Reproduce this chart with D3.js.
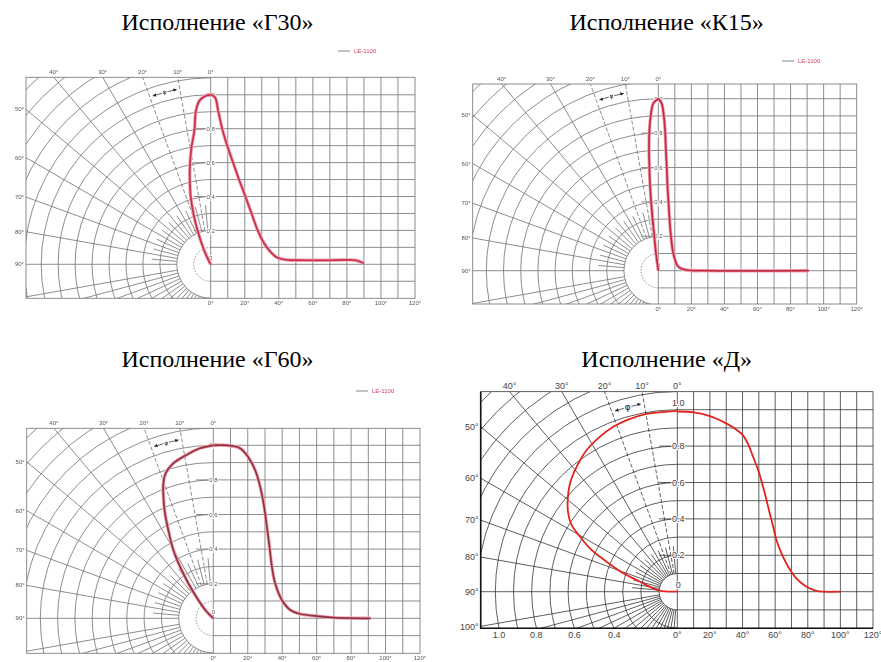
<!DOCTYPE html>
<html>
<head>
<meta charset="utf-8">
<script src="https://cdn.jsdelivr.net/npm/d3@7"></script>
<style>
  body { margin: 0; background: #fff; }
  svg { display: block; }
</style>
</head>
<body>
<svg id="chart" width="881" height="662"></svg>
<script>
// ---- data ----
const titles = ["Исполнение «Г30»", "Исполнение «К15»", "Исполнение «Г60»", "Исполнение «Д»"];
const legendLabel = "LE-1100";

const topAngles = [40, 30, 20, 10, 0];
const sideAngles = [50, 60, 70, 80, 90];
const sideAnglesD = [50, 60, 70, 80, 90, 100];
const degTicks = [0, 20, 40, 60, 80, 100, 120];
const levelTicks = [1.0, 0.8, 0.6, 0.4, 0.2, 0];
const bottomLevels = [1.0, 0.8, 0.6, 0.4];

// [angle, relative intensity] – left half is polar, right half is cartesian
const g30Polar = [[0,1.0],[1.4,0.996],[3.7,0.972],[5.4,0.915],[7,0.793],[9.3,0.7],[11.7,0.603],[14,0.51],
  [16.5,0.415],[18.8,0.315],[21.2,0.217],[24.6,0.104],[28,0.03],[28,0]];
const g30Cart = [[0,1.0],[2.5,0.985],[4.5,0.9],[7,0.79],[10,0.69],[13.5,0.59],[17,0.49],[20.5,0.397],
  [24,0.3],[27.5,0.203],[31,0.13],[35,0.075],[39,0.04],[44,0.027],[55,0.024],[70,0.024],[80,0.026],
  [85,0.024],[90,0.006]];

const k15Polar = [[0,1.0],[1.7,0.973],[2.85,0.896],[3.75,0.8],[4.4,0.704],[4.9,0.607],[5.45,0.51],
  [5.9,0.413],[6.3,0.316],[6.6,0.219],[7.4,0.121],[7.8,0.043],[8,0]];
const k15Cart = [[0,1.0],[2,0.973],[3.4,0.895],[4.2,0.8],[4.6,0.7],[5.1,0.605],[5.5,0.504],[6.1,0.41],
  [6.7,0.314],[7.5,0.217],[9.1,0.1],[12.1,0.023],[17.2,0.004],[29,0],[91,0]];

const g60Polar = [[0,1.0],[4.5,0.986],[9.3,0.957],[14.5,0.925],[18.2,0.882],[20.3,0.832],[22.3,0.76],
  [24.7,0.668],[27,0.573],[30.3,0.458],[32.8,0.355],[35.5,0.249],[39.3,0.137],[45,0.055],[45,0]];
const g60Cart = [[0,1.0],[7.8,1.0],[15.5,0.983],[20.4,0.93],[24.3,0.857],[27.2,0.761],[29.5,0.645],
  [31.1,0.53],[32.6,0.414],[34,0.3],[35.9,0.202],[39.8,0.106],[44.7,0.048],[50.5,0.025],[60.2,0.013],
  [69.9,0.004],[91.3,0]];

const dPolar = [[0,0.994],[9.8,0.991],[16.4,0.983],[21.2,0.972],[26.5,0.952],[32.6,0.924],[38.8,0.882],
  [44.7,0.838],[50.1,0.785],[54.3,0.738],[57.8,0.686],[60.5,0.614],[64.1,0.523],[67,0.422],[71.2,0.313],
  [75,0.212],[82.1,0.133],[87.6,0.086],[89.5,0.04],[90,0]];
const dCart = [[0,0.99],[10,0.985],[20,0.965],[30,0.925],[35,0.898],[40,0.862],[42,0.835],[44,0.8],
  [46.5,0.74],[49.6,0.668],[53.7,0.54],[56.7,0.43],[58.8,0.357],[60.8,0.284],[63.9,0.21],[68,0.137],
  [73,0.073],[79.2,0.027],[85.3,0.005],[89.4,0],[100,0]];

// ---- layout ----
const panels = [
  { title: titles[0], polar: g30Polar, cart: g30Cart, ox: 210.7, oy: 264.3, R: 169.5,
    left: 26, top: 77.3, right: 415, bottom: 298.3, tx: 217.5, ty: 30, soft: true,
    color: "#c8304c", legend: [338, 51], hole: 2 },
  { title: titles[1], polar: k15Polar, cart: k15Cart, ox: 658.3, oy: 270.7, R: 172,
    left: 472.7, top: 84, right: 856.7, bottom: 304, tx: 666.7, ty: 30, soft: true,
    color: "#c22c48", legend: [782, 61], hole: 2 },
  { title: titles[2], polar: g60Polar, cart: g60Cart, ox: 213.3, oy: 618.3, R: 173,
    left: 26.7, top: 428.3, right: 420, bottom: 653.3, tx: 217.5, ty: 367, soft: true,
    color: "#8e3442", legend: [356, 391], hole: 2 },
  { title: titles[3], polar: dPolar, cart: dCart, ox: 677.3, oy: 591.7, R: 182,
    left: 480.7, top: 391.7, right: 873, bottom: 628.3, tx: 666.7, ty: 367, soft: false,
    color: "#e2231f", legend: null, hole: 1 }
];

const svg = d3.select("#chart");
const defs = svg.append("defs");
defs.append("filter").attr("id", "soft")
  .append("feGaussianBlur").attr("stdDeviation", 0.75);
defs.append("marker").attr("id", "arr")
  .attr("viewBox", "0 0 6 6").attr("refX", 6).attr("refY", 3)
  .attr("markerWidth", 5).attr("markerHeight", 5)
  .attr("orient", "auto-start-reverse")
  .append("path").attr("d", "M0,0L6,3L0,6Z").attr("fill", "#222");

const rad = a => a * Math.PI / 180;

panels.forEach((p, i) => {
  const g = svg.append("g");
  if (p.soft) g.attr("filter", "url(#soft)");

  const x = d3.scaleLinear().domain([0, 120]).range([p.ox, p.right]);
  const y = d3.scaleLinear().domain([0, 1]).range([p.oy, p.oy - p.R]);
  const r = d3.scaleLinear().domain([0, 1]).range([0, p.R]);
  const pol = (a, v) => [p.ox - r(v) * Math.sin(rad(a)), p.oy - r(v) * Math.cos(rad(a))];

  const gridColor = p.soft ? "#7a7a7a" : "#2a2a2a";
  const gridW = p.soft ? 0.85 : 0.75;
  const font = p.soft ? 6 : 9;
  const labelColor = p.soft ? "#555" : "#444";

  const clipId = "polclip" + i;
  defs.append("clipPath").attr("id", clipId)
    .append("rect")
    .attr("x", p.left).attr("y", p.top)
    .attr("width", p.ox - p.left).attr("height", p.bottom - p.top);

  const grid = g.append("g")
    .attr("stroke", gridColor).attr("stroke-width", gridW).attr("fill", "none");

  // cartesian half
  grid.selectAll(".vline").data(d3.range(10, 120, 10)).join("line")
    .attr("class", "vline")
    .attr("x1", d => x(d)).attr("x2", d => x(d))
    .attr("y1", p.top).attr("y2", p.bottom);
  grid.selectAll(".hline")
    .data(d3.range(-2, 12).map(k => k / 10).filter(v => y(v) > p.top + 1 && y(v) < p.bottom - 1))
    .join("line")
    .attr("class", "hline")
    .attr("x1", x(0)).attr("x2", p.right)
    .attr("y1", d => y(d)).attr("y2", d => y(d));

  // polar half
  const pg = grid.append("g").attr("clip-path", `url(#${clipId})`);
  pg.selectAll(".arc").data(d3.range(p.hole, 17).map(k => k / 10)).join("circle")
    .attr("class", "arc")
    .attr("cx", p.ox).attr("cy", p.oy).attr("r", d => r(d));
  if (p.soft) {
    pg.append("circle").attr("cx", p.ox).attr("cy", p.oy).attr("r", r(0.1))
      .attr("stroke-dasharray", "1.5,1.5");
  }
  const h = p.hole / 10;
  pg.selectAll(".ray").data(d3.range(10, 101, 10)).join("line")
    .attr("class", "ray")
    .attr("x1", d => pol(d, h)[0]).attr("y1", d => pol(d, h)[1])
    .attr("x2", d => pol(d, 2.5)[0]).attr("y2", d => pol(d, 2.5)[1])
    .attr("stroke-dasharray", d => (d === 10 || d === 20) ? "4,2" : null);
  pg.selectAll(".spoke").data(d3.range(5, 90, 10)).join("line")
    .attr("class", "spoke")
    .attr("x1", d => pol(d, h)[0]).attr("y1", d => pol(d, h)[1])
    .attr("x2", d => pol(d, h + 0.15)[0]).attr("y2", d => pol(d, h + 0.15)[1]);
  pg.selectAll(".lowspoke").data(d3.range(105, 180, 5)).join("line")
    .attr("class", "lowspoke")
    .attr("x1", d => pol(d, h)[0]).attr("y1", d => pol(d, h)[1])
    .attr("x2", d => pol(d, 2.5)[0]).attr("y2", d => pol(d, 2.5)[1]);

  // frame and zero line
  grid.append("rect")
    .attr("x", p.left).attr("y", p.top)
    .attr("width", p.right - p.left).attr("height", p.bottom - p.top);
  grid.append("line").attr("x1", p.ox).attr("x2", p.ox).attr("y1", p.top).attr("y2", p.bottom);
  if (!p.soft) {
    grid.append("path")
      .attr("d", `M${p.left},${p.top}V${p.bottom}H${p.right}`)
      .attr("stroke", "#111").attr("stroke-width", 1.6);
  }

  // short leader ticks by the level labels
  grid.selectAll(".lead").data([0.8, 0.6, 0.4, 0.2]).join("line")
    .attr("class", "lead")
    .attr("x1", p.ox - r(0.1)).attr("x2", p.ox)
    .attr("y1", d => y(d)).attr("y2", d => y(d));

  // angle mark φ
  const ar = 1.05;
  const a1 = pol(19, ar), a2 = pol(11, ar);
  g.append("path")
    .attr("d", `M${a1[0]},${a1[1]}A${r(ar)},${r(ar)} 0 0 1 ${a2[0]},${a2[1]}`)
    .attr("fill", "none").attr("stroke", "#222").attr("stroke-width", 0.7)
    .attr("marker-start", "url(#arr)").attr("marker-end", "url(#arr)");
  const am = pol(15, ar);
  g.append("text")
    .attr("x", am[0]).attr("y", am[1] + font * 0.35)
    .attr("text-anchor", "middle")
    .attr("font-family", "DejaVu Sans, sans-serif").attr("font-size", font)
    .attr("fill", "#222")
    .attr("stroke", "#fff").attr("stroke-width", 2.5).attr("paint-order", "stroke")
    .text("φ");

  // labels
  const lab = g.append("g")
    .attr("font-family", "Liberation Sans, Arial, sans-serif")
    .attr("font-size", font).attr("fill", labelColor);

  lab.selectAll(".tlab").data(topAngles).join("text")
    .attr("class", "tlab")
    .attr("x", d => p.ox - (p.oy - p.top) * Math.tan(rad(d)))
    .attr("y", p.top - 3)
    .attr("text-anchor", "middle")
    .text(d => d + "°");

  lab.selectAll(".slab").data(p.soft ? sideAngles : sideAnglesD).join("text")
    .attr("class", "slab")
    .attr("x", p.left - 2)
    .attr("y", d => p.oy - (p.ox - p.left) / Math.tan(rad(d)) + font * 0.35)
    .attr("text-anchor", "end")
    .text(d => d + "°");

  lab.selectAll(".blab").data(degTicks).join("text")
    .attr("class", "blab")
    .attr("x", d => x(d))
    .attr("y", p.bottom + font + 1)
    .attr("text-anchor", "middle")
    .text(d => d + "°");

  if (!p.soft) {
    const dy = p.bottom - p.oy;
    lab.selectAll(".ilab").data(bottomLevels).join("text")
      .attr("class", "ilab")
      .attr("x", d => p.ox - Math.sqrt(r(d) * r(d) - dy * dy))
      .attr("y", p.bottom + font + 1)
      .attr("text-anchor", "middle")
      .text(d => d.toFixed(1));
  }

  const fmt = v => v === 0 ? "0" : (p.soft ? v.toFixed(1).replace(".", ",") : v.toFixed(1));
  lab.selectAll(".vlab").data(levelTicks).join("text")
    .attr("class", "vlab")
    .attr("x", p.ox + (p.soft ? 0 : 1))
    .attr("y", d => (d === 0 || (d === 1 && !p.soft)) ? y(d) - 4 : y(d) + font * 0.35)
    .attr("text-anchor", "middle")
    .attr("stroke", "#fff").attr("stroke-width", 2).attr("paint-order", "stroke")
    .text(fmt);

  // curves
  const line = d3.line().curve(d3.curveCatmullRom.alpha(0.5));
  const polarPts = p.polar.map(d => pol(d[0], d[1]));
  const cartPts = p.cart.map(d => [x(d[0]), y(d[1])]);
  const curves = g.append("g").attr("fill", "none").attr("stroke-linejoin", "round");
  if (p.soft) {
    curves.selectAll(".halo").data([polarPts, cartPts]).join("path")
      .attr("class", "halo")
      .attr("d", line).attr("stroke", "#f3a0b0").attr("stroke-width", 3.4);
  }
  curves.selectAll(".main").data([polarPts, cartPts]).join("path")
    .attr("class", "main")
    .attr("d", line).attr("stroke", p.color).attr("stroke-width", p.soft ? 1.7 : 1.8);

  // legend
  if (p.legend) {
    const [lx, ly] = p.legend;
    g.append("line").attr("x1", lx).attr("x2", lx + 12).attr("y1", ly).attr("y2", ly)
      .attr("stroke", "#999").attr("stroke-width", 1.2);
    g.append("text").attr("x", lx + 16).attr("y", ly + 2)
      .attr("font-family", "Liberation Sans, Arial, sans-serif").attr("font-size", 6)
      .attr("fill", "#d0405c").text(legendLabel);
  }

  // title
  svg.append("text")
    .attr("x", p.tx).attr("y", p.ty)
    .attr("text-anchor", "middle")
    .attr("font-family", "Liberation Serif, Times New Roman, serif")
    .attr("font-size", 24).attr("fill", "#000")
    .text(p.title);
});
</script>
</body>
</html>
